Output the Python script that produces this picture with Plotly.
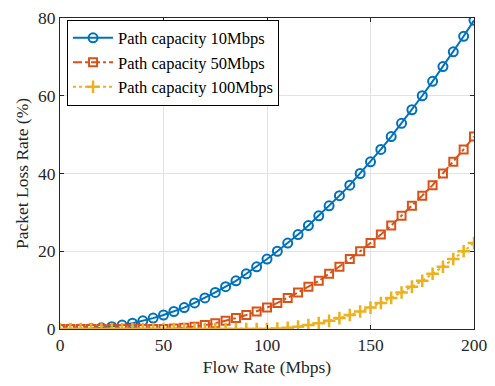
import plotly.graph_objects as go

flow_rate = [0, 5, 10, 15, 20, 25, 30, 35, 40, 45, 50, 55, 60, 65, 70, 75, 80, 85, 90, 95,
             100, 105, 110, 115, 120, 125, 130, 135, 140, 145, 150, 155, 160, 165, 170, 175,
             180, 185, 190, 195, 200]

loss_10 = [0, 0, 0, 0.1, 0.3, 0.6, 1.0, 1.5, 2.1, 2.8, 3.6, 4.5, 5.5, 6.7, 8.0, 9.4, 10.9,
           12.4, 14.2, 16.0, 18.0, 20.0, 22.1, 24.3, 26.6, 29.1, 31.7, 34.3, 37.0, 40.0, 43.0,
           46.2, 49.5, 52.9, 56.4, 60.0, 63.7, 67.5, 71.3, 75.3, 79.4]

loss_50 = [0, 0, 0, 0, 0, 0, 0, 0, 0, 0, 0, 0.1, 0.3, 0.6, 1.0, 1.5, 2.1, 2.8, 3.6, 4.5,
           5.5, 6.7, 8.0, 9.4, 10.9, 12.4, 14.2, 16.0, 18.0, 20.0, 22.1, 24.3, 26.6, 29.1,
           31.7, 34.3, 37.0, 40.0, 43.0, 46.2, 49.5]

loss_100 = [0, 0, 0, 0, 0, 0, 0, 0, 0, 0, 0, 0, 0, 0, 0, 0, 0, 0, 0, 0, 0, 0.1, 0.3,
            0.6, 1.0, 1.5, 2.1, 2.8, 3.6, 4.5, 5.5, 6.7, 8.0, 9.4, 10.9, 12.4, 14.2, 16.0,
            18.0, 20.0, 22.1]

names = ["Path capacity 10Mbps", "Path capacity 50Mbps", "Path capacity 100Mbps"]
colors = ["#0072BD", "#D95319", "#EDB120"]

FONT = "Liberation Serif, Times New Roman, serif"
AX = "#262626"
FS = 17.5

fig = go.Figure()
fig.add_trace(go.Scatter(
    x=flow_rate, y=loss_10, name=names[0], mode="lines+markers",
    line=dict(color=colors[0], width=2),
    marker=dict(symbol="circle-open", size=9, color=colors[0], line=dict(width=2, color=colors[0]))))
fig.add_trace(go.Scatter(
    x=flow_rate, y=loss_50, name=names[1], mode="lines+markers",
    line=dict(color=colors[1], width=2, dash="dashdot"),
    marker=dict(symbol="square-open", size=8, color=colors[1], line=dict(width=2, color=colors[1]))))
fig.add_trace(go.Scatter(
    x=flow_rate, y=loss_100, name=names[2], mode="lines+markers",
    line=dict(color=colors[2], width=2, dash="dot"),
    marker=dict(symbol="cross-thin-open", size=9, color=colors[2], line=dict(width=2.5, color=colors[2]))))

fig.update_layout(
    width=495, height=386,
    margin=dict(l=60, r=19, t=8, b=57),
    paper_bgcolor="white", plot_bgcolor="white",
    font=dict(family=FONT, size=FS, color=AX),
    showlegend=True,
    legend=dict(x=0.017, y=0.995, xanchor="left", yanchor="top",
                bgcolor="white", bordercolor="black", borderwidth=1,
                font=dict(family=FONT, size=16.5, color="black"),
                tracegroupgap=0, itemwidth=40),
)
fig.update_xaxes(range=[0, 200], tickvals=[0, 50, 100, 150, 200],
                 showline=True, linecolor=AX, linewidth=1, mirror="ticks",
                 ticks="inside", ticklen=4, tickcolor=AX, ticklabeloverflow="allow",
                 tickfont=dict(family=FONT, size=FS, color=AX),
                 showgrid=True, gridcolor="#e3e3e3", gridwidth=1, zeroline=False,
                 title=dict(text="Flow Rate (Mbps)", font=dict(family=FONT, size=FS, color=AX), standoff=6))
fig.update_yaxes(range=[0, 80], tickvals=[0, 20, 40, 60, 80],
                 showline=True, linecolor=AX, linewidth=1, mirror="ticks",
                 ticks="inside", ticklen=4, tickcolor=AX, ticklabeloverflow="allow",
                 tickfont=dict(family=FONT, size=FS, color=AX),
                 showgrid=True, gridcolor="#e3e3e3", gridwidth=1, zeroline=False,
                 title=dict(text="Packet Loss Rate (%)", font=dict(family=FONT, size=FS, color=AX), standoff=4))

fig.write_html("out.html")
